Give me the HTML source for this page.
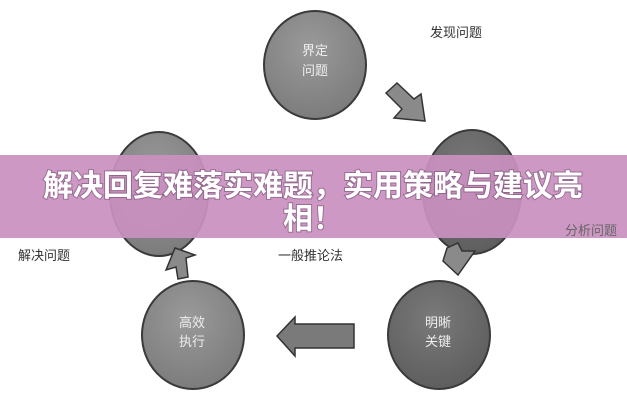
<!DOCTYPE html>
<html><head><meta charset="utf-8"><style>
html,body{margin:0;padding:0;background:#fff;width:627px;height:400px;overflow:hidden;font-family:"Liberation Sans","Noto Sans CJK SC",sans-serif}
</style></head><body>
<svg width="627" height="400" viewBox="0 0 627 400" xmlns="http://www.w3.org/2000/svg" style="position:absolute;left:0;top:0">
<defs>
<radialGradient id="g" cx="45%" cy="35%" r="65%"><stop offset="0" stop-color="#9a9a9a"/><stop offset="1" stop-color="#7c7c7c"/></radialGradient>
<radialGradient id="d" cx="45%" cy="35%" r="65%"><stop offset="0" stop-color="#7a7a7a"/><stop offset="1" stop-color="#5e5e5e"/></radialGradient>
</defs>
<g stroke="#3a3a3a" stroke-width="2">
<ellipse cx="315" cy="65" rx="51" ry="54" fill="url(#g)"/>
<ellipse cx="159" cy="194" rx="49" ry="62" fill="url(#g)"/>
<ellipse cx="472" cy="192" rx="49" ry="62" fill="url(#d)"/>
<ellipse cx="193" cy="335" rx="51" ry="54" fill="url(#g)"/>
<ellipse cx="439" cy="335" rx="51" ry="54" fill="url(#d)"/>
</g>
<g fill="#8a8a8a" stroke="#333" stroke-width="1.5">
<polygon points="386,93 397,83 414,99 421,94 425,121 394,118 402,109"/>
<polygon points="447,248 458,243 462,251 475,251 458,275 443,261"/>
<polygon points="166,270 175,248 195,255 186,258 188,277 178,279 176,267"/>
<polygon points="354,324 354,348 295,348 295,356 277,336 295,317 295,324" fill="#7a7a7a"/>
</g>
<g font-family="Liberation Sans,Noto Sans CJK SC,sans-serif" font-size="13" fill="#eee" text-anchor="middle">
<text x="315" y="55">界定</text><text x="315" y="75">问题</text>
<text x="192" y="327">高效</text><text x="192" y="346">执行</text>
<text x="438" y="327">明晰</text><text x="438" y="346">关键</text>
</g>
<g font-family="Liberation Sans,Noto Sans CJK SC,sans-serif" font-size="13" fill="#333">
<text x="430" y="37">发现问题</text>
<text x="18" y="260">解决问题</text>
<text x="278" y="260">一般推论法</text>
</g>
<rect x="0" y="155" width="627" height="83" fill="#c990bf" fill-opacity="0.93"/>
<text x="565" y="235" font-family="Liberation Sans,Noto Sans CJK SC,sans-serif" font-size="13" fill="#666">分析问题</text>
<g font-family="Liberation Sans,Noto Sans CJK SC,sans-serif" font-size="30" font-weight="bold" fill="#fff" text-anchor="middle" style="paint-order:stroke" stroke="rgba(60,30,60,0.35)" stroke-width="2">
<text x="313" y="196">解决回复难落实难题，实用策略与建议亮</text>
<text x="313" y="229">相！</text>
</g>
</svg>
</body></html>
